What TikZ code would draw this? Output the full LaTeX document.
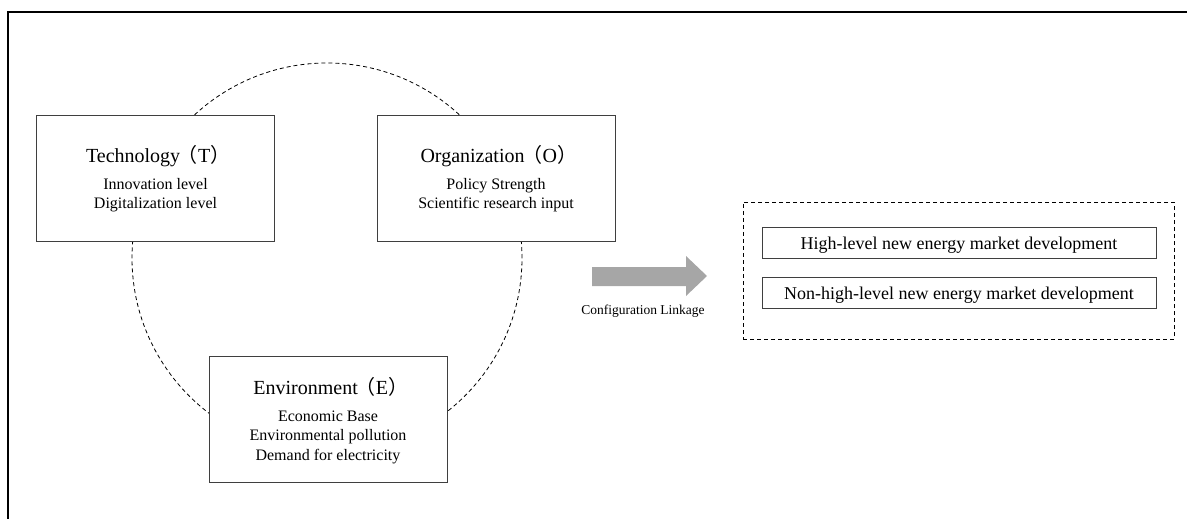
\documentclass[tikz,border=0pt]{standalone}
\usepackage{fontspec}
\setmainfont{Liberation Serif}
\newfontfamily\cjk{Noto Sans CJK SC}
\definecolor{boxgray}{HTML}{3F3F3F}
\definecolor{arrowgray}{HTML}{A6A6A6}
\tikzset{
  factorbox/.style={draw=boxgray, line width=1pt, fill=white, inner sep=0pt,
    minimum width=238pt, minimum height=126pt},
  resultbox/.style={draw=boxgray, line width=1pt, fill=white, inner sep=0pt,
    minimum width=394pt, minimum height=31pt},
  dashline/.style={draw=black, line width=0.8pt, dash pattern=on 4pt off 3pt},
  titletext/.style={anchor=base, inner sep=0pt, font=\fontsize{20}{24}\selectfont},
  subtext/.style={anchor=base, inner sep=0pt, font=\fontsize{16}{19}\selectfont},
  restext/.style={anchor=base, inner sep=0pt, font=\fontsize{18}{21}\selectfont},
  captext/.style={anchor=base, inner sep=0pt, font=\fontsize{13.5}{16}\selectfont},
}
\newcommand{\fwp}[1]{\kern-2.5pt{\cjk （}\kern0.5pt#1\kern0.5pt{\cjk ）}\kern-6pt}
\begin{document}
\begin{tikzpicture}[x=1pt,y=-1pt]
\useasboundingbox (0,0) rectangle (1187,519);
% frame (top and left)
\coordinate (fa) at (8,519);
\coordinate (fb) at (8,12);
\coordinate (fc) at (1187,12);
\draw[line width=1.3pt] (fa) -- (fb) -- (fc);
% dashed circle
\coordinate (cc) at (327,258);
\draw[dashline] (cc) circle[radius=195pt];
% factor boxes
\node[factorbox] (tech) at (155.5,178) {};
\node[factorbox] (org) at (496,178.5) {};
\node[factorbox] (env) at (328,419) {};
% technology
\node[titletext] (techt) at (155.5,162) {Technology\fwp{T}};
\node[subtext] (tech1) at (155.5,189) {Innovation level};
\node[subtext] (tech2) at (155.5,208) {Digitalization level};
% organization
\node[titletext] (orgt) at (496,162) {Organization\fwp{O}};
\node[subtext] (org1) at (496,189) {Policy Strength};
\node[subtext] (org2) at (496,208) {Scientific research input};
% environment
\node[titletext] (envt) at (328,394) {Environment\fwp{E}};
\node[subtext] (env1) at (328,421) {Economic Base};
\node[subtext] (env2) at (328,440.5) {Environmental pollution};
\node[subtext] (env3) at (328,460) {Demand for electricity};
% arrow
\fill[arrowgray] (592,267) -- (686,267) -- (686,256) -- (707,276) -- (686,296) -- (686,286) -- (592,286) -- cycle;
\node[captext] (cap) at (643,314) {Configuration Linkage};
% result area
\node[draw=black, line width=0.8pt, dash pattern=on 4pt off 3pt, minimum width=431pt, minimum height=137pt, inner sep=0pt] (res) at (958.5,270.5) {};
\node[resultbox] (high) at (959,242.5) {};
\node[resultbox] (nonhigh) at (959,292.5) {};
\node[restext] (hight) at (959,249) {High-level new energy market development};
\node[restext] (nonhight) at (959,299) {Non-high-level new energy market development};
\end{tikzpicture}
\end{document}
